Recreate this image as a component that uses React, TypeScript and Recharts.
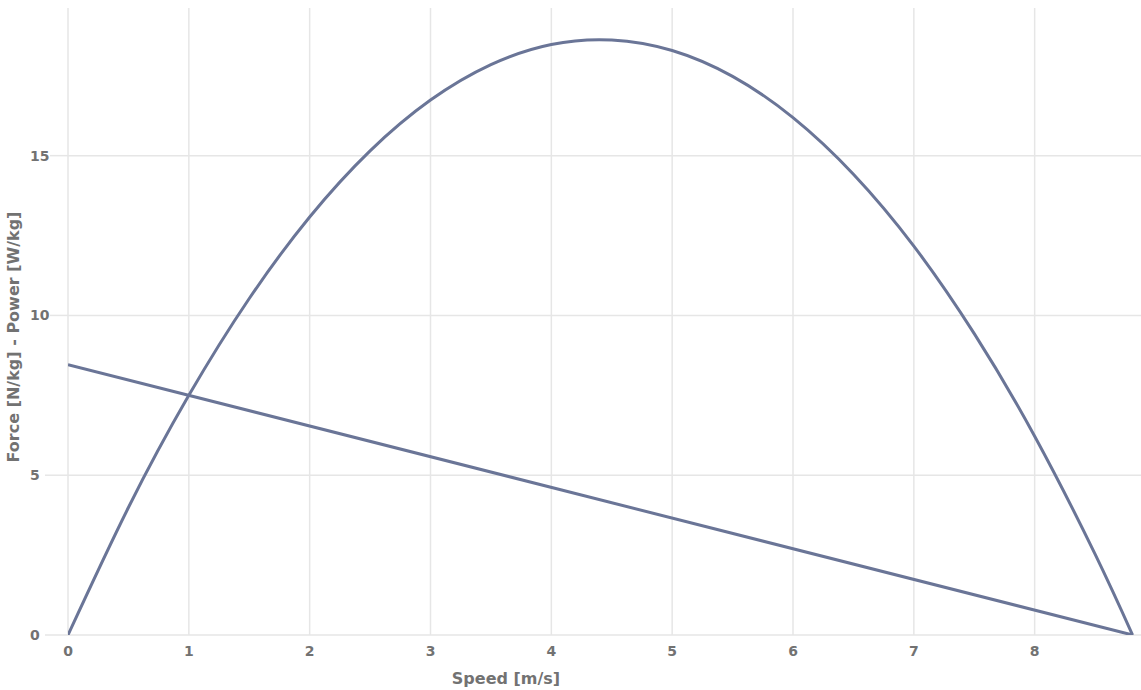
import React from "react";
import { LineChart, Line, XAxis, YAxis, CartesianGrid } from "recharts";

const powerSpeeds = [0, 0.5, 1, 1.5, 2, 2.5, 3, 3.5, 4, 4.5, 5, 5.5, 6, 6.5, 7, 7.5, 8, 8.5, 8.81];
const powerValues = [0, 3.99, 7.5, 10.53, 13.08, 15.15, 16.74, 17.85, 18.48, 18.62, 18.29, 17.48, 16.19, 14.42, 12.17, 9.43, 6.22, 2.53, 0];
const forceSpeeds = [0, 8.81];
const forceValues = [8.46, 0];
const xTicks = [0, 1, 2, 3, 4, 5, 6, 7, 8];
const yTicks = [0, 5, 10, 15];
const xTitle = "Speed [m/s]";
const yTitle = "Force [N/kg] - Power [W/kg]";

const powerData = powerSpeeds.map((s, i) => ({ speed: s, value: powerValues[i] }));
const forceData = forceSpeeds.map((s, i) => ({ speed: s, value: forceValues[i] }));

const FONT = "'DejaVu Sans', sans-serif";
const TEXT = "#727272";
const GRID = "#e6e6e6";
const LINE = "#6a7597";

const YTick = (props: any) => {
  const { y, payload } = props;
  const label = String(payload.value);
  const start = 30 + (label.length === 1 ? 15 : 20);
  return (
    <g>
      <line x1={start} x2={68} y1={y} y2={y} stroke={GRID} strokeWidth={1.5} />
      <text x={30} y={y} dy="0.36em" textAnchor="start" fill={TEXT} fontFamily={FONT} fontWeight="bold" fontSize={14}>
        {label}
      </text>
    </g>
  );
};

export default function App() {
  return (
    <div style={{ position: "absolute", left: 0, top: 0, width: 1141, height: 690 }}>
      <LineChart width={1141} height={690} margin={{ top: 8, right: 0, bottom: 0, left: 0 }}>
        <CartesianGrid stroke={GRID} strokeWidth={1.5} syncWithTicks />
        <XAxis
          type="number"
          dataKey="speed"
          domain={[0, 8.88]}
          ticks={xTicks}
          allowDataOverflow
          axisLine={false}
          tickLine={false}
          tickSize={0}
          tickMargin={11}
          height={55}
          tick={{ fill: TEXT, fontFamily: FONT, fontWeight: "bold", fontSize: 14 }}
        />
        <YAxis
          type="number"
          domain={[0, 19.62]}
          ticks={yTicks}
          allowDataOverflow
          axisLine={false}
          tickLine={false}
          width={68}
          tick={<YTick />}
        />
        <Line data={powerData} dataKey="value" type="natural" stroke={LINE} strokeWidth={3} dot={false} activeDot={false} isAnimationActive={false} />
        <Line data={forceData} dataKey="value" type="linear" stroke={LINE} strokeWidth={3} dot={false} activeDot={false} isAnimationActive={false} />
        <text x={506} y={678} dy="0.36em" textAnchor="middle" fill={TEXT} fontFamily={FONT} fontWeight="bold" fontSize={16}>
          {xTitle}
        </text>
        <text x={13} y={337} dy="0.36em" textAnchor="middle" fill={TEXT} fontFamily={FONT} fontWeight="bold" fontSize={16} transform="rotate(-90 13 337)">
          {yTitle}
        </text>
      </LineChart>
    </div>
  );
}
